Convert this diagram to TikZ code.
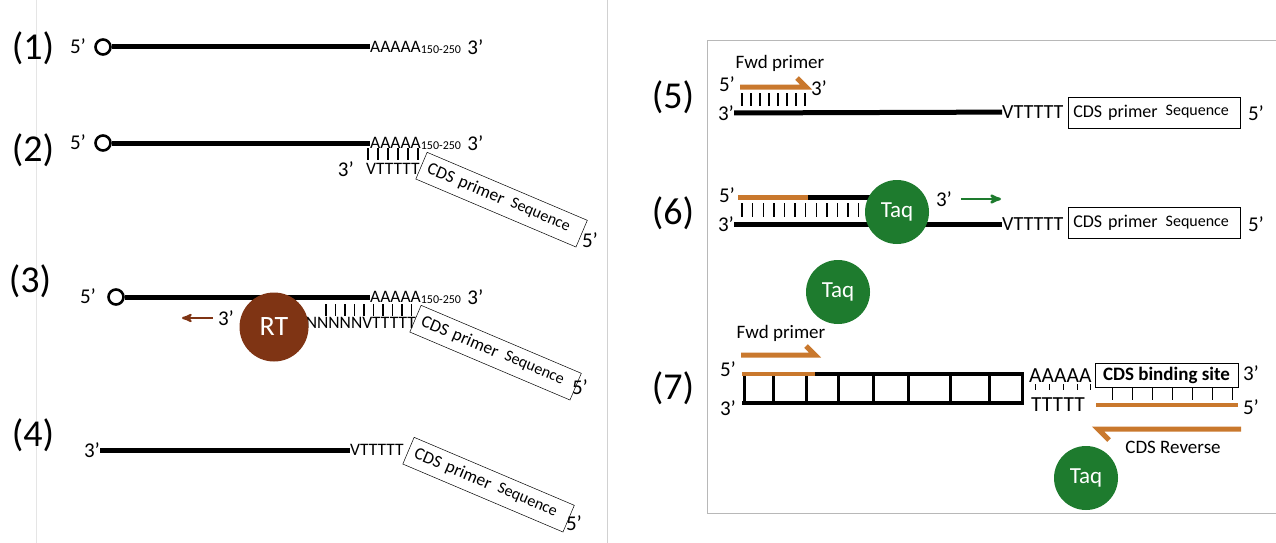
\documentclass[tikz,border=0pt]{standalone}
\usepackage{fontspec}
\setmainfont{Carlito}
\usetikzlibrary{arrows}
\usetikzlibrary{positioning}

\definecolor{primerorange}{HTML}{C9782D}
\definecolor{taqgreen}{HTML}{1E7B2E}
\definecolor{rtbrown}{HTML}{7F3414}
\newcommand{\fsz}[1]{\fontsize{#1}{#1}\selectfont}
\newcommand{\polya}{AAAAA\raisebox{-1pt}{\fsz{12}150-250}}
\newcommand{\cdstext}{CDS primer\hspace{8pt}\raisebox{1.5pt}{\fsz{16}Sequence}}

\begin{document}
\begin{tikzpicture}[x=1pt,y=-1pt,>=stealth',
    num/.style={font=\fsz{38},inner sep=0},
    prime/.style={font=\fsz{21},inner sep=0},
    seq/.style={font=\fsz{17.5},inner sep=0,anchor=west},
    strand/.style={line width=5pt},
    capring/.style={circle,draw,line width=2.6pt,minimum size=15pt,inner sep=0},
    pair/.style={line width=1.4pt},
    primer/.style={primerorange,line width=5pt},
    cdsbox/.style={draw,line width=0.5pt,anchor=north west,rotate=-23,
      minimum width=174pt,minimum height=29pt,text width=160pt,align=left,font=\fsz{17.5}},
    cdsflat/.style={draw,line width=0.6pt,anchor=west,minimum width=172pt,
      minimum height=31pt,text width=162pt,align=left,font=\fsz{18}},
    taq/.style={circle,fill=taqgreen,text=white,minimum size=64pt,inner sep=0,font=\fsz{23}}]

  \useasboundingbox (0,0) rectangle (1276,543);

  % frames
  \draw[black!10,line width=0.8pt] (36,0) -- (36,543);
  \draw[black!18,line width=0.8pt] (607,0) -- (607,543);
  \draw[black!28,line width=0.8pt] (1280,40) -- (707,40) -- (707,513) -- (1280,513);

  % (1) mRNA
  \node[num] (n1) at (33,48) {(1)};
  \node[prime] (p1) at (78,46) {5’};
  \node[capring] (c1) at (103,47) {};
  \node[seq] (a1) at (370,47) {\polya};
  \node[prime,right=6pt of a1] (q1) {3’};
  \draw[strand] (c1) -- (a1);

  % (2) CDS primer binds
  \node[num] (n2) at (33,150) {(2)};
  \node[prime] (p2) at (78,142) {5’};
  \node[capring] (c2) at (103,143) {};
  \node[seq] (a2) at (370,143) {\polya};
  \node[prime,right=6pt of a2] (q2) {3’};
  \draw[strand] (c2) -- (a2);
  \foreach \x in {368,378,...,418}
    \draw[pair] (\x,148) -- (\x,160);
  \node[seq] (v2) at (366,169) {VTTTTT};
  \node[prime,left=12pt of v2] (t2) {3’};
  \node[cdsbox] (b2) at (427,152) {\cdstext};
  \node[prime] (e2) at (590,240) {5’};

  % (3) reverse transcription
  \node[num] (n3) at (30,281) {(3)};
  \node[prime] (p3) at (88,296) {5’};
  \node[capring] (c3) at (116,297) {};
  \node[seq] (a3) at (370,297) {\polya};
  \node[prime,right=6pt of a3] (q3) {3’};
  \draw[strand] (c3) -- (a3);
  \foreach \x in {326,335.5,...,414}
    \draw[pair] (\x,304) -- (\x,316);
  \node[seq,anchor=east] (v3) at (416,323) {NNNNNVTTTTT};
  \node[cdsbox] (b3) at (421,305) {\cdstext};
  \node[prime] (e3) at (580,387) {5’};
  \node[circle,fill=rtbrown,text=white,minimum size=69pt,inner sep=0,font=\fsz{28}] (rt) at (274,327) {RT};
  \node[prime] (t3) at (226,318) {3’};
  \coordinate (r3) at (182,318);
  \draw[->,rtbrown,line width=2.2pt,shorten <=5pt] (t3) -- (r3);

  % (4) first strand cDNA
  \node[num] (n4) at (33,435) {(4)};
  \node[prime] (t4) at (92,450) {3’};
  \node[seq] (v4) at (350,450) {VTTTTT};
  \draw[strand] (t4) -- (v4);
  \node[cdsbox] (b4) at (414,437) {\cdstext};
  \node[prime] (e4) at (574,523) {5’};

  % (5) Fwd primer anneals
  \node[num] (n5) at (673,97) {(5)};
  \node[font=\fsz{19}] (l5) at (780,63) {Fwd primer};
  \node[prime] (f5) at (727,84) {5’};
  \coordinate (s5) at (740,87);
  \coordinate (h5) at (806,87);
  \draw[primer] (s5) -- (h5) -- ++(-9,-9);
  \node[prime] (g5) at (819,88) {3’};
  \foreach \x in {742,751,...,806}
    \draw[pair] (\x,93) -- (\x,106);
  \node[prime] (t5) at (726,113) {3’};
  \node[seq,font=\fsz{20}] (v5) at (1002,112) {VTTTTT};
  \draw[strand] (t5) -- (v5);
  \node[cdsflat] (b5) at (1068,112.5) {\cdstext};
  \node[prime] (e5) at (1256,113) {5’};

  % (6) extension by Taq
  \node[num] (n6) at (673,213) {(6)};
  \node[prime] (f6) at (727,195) {5’};
  \coordinate (s6) at (738,197);
  \coordinate (m6) at (808,197);
  \coordinate (k6) at (882,197);
  \draw[primer] (s6) -- (m6);
  \draw[strand] (m6) -- (k6);
  \foreach \x in {742,752.6,...,872}
    \draw[pair] (\x,203) -- (\x,217);
  \node[prime] (t6) at (726,224) {3’};
  \node[seq,font=\fsz{20}] (v6) at (1002,224) {VTTTTT};
  \draw[strand] (t6) -- (v6);
  \node[taq] (q6) at (897,212) {Taq};
  \node[prime] (g6) at (944,199) {3’};
  \coordinate (r6) at (1001,199);
  \draw[->,taqgreen,line width=2.5pt,shorten <=9pt] (g6) -- (r6);
  \node[cdsflat] (b6) at (1068,223) {\cdstext};
  \node[prime] (e6) at (1256,224) {5’};
  \node[taq] (free) at (838,292) {Taq};

  % (7) double strand cDNA
  \node[num] (n7) at (673,388) {(7)};
  \node[font=\fsz{19}] (l7) at (781,333) {Fwd primer};
  \coordinate (s7) at (741,355);
  \coordinate (h7) at (815,355);
  \draw[primer] (s7) -- (h7) -- ++(-9,-9);
  \node[prime] (f7) at (728,369) {5’};
  \node[prime] (t7) at (728,408) {3’};
  \coordinate (lt) at (742,374);
  \coordinate (rt7) at (1024,374);
  \coordinate (lb) at (742,403);
  \coordinate (rb) at (1024,403);
  \draw[line width=4pt] (lt) -- (rt7);
  \draw[line width=4pt] (lb) -- (rb);
  \foreach \x in {744,773,806,838,873,908,950,989,1022}
    \draw[line width=3pt] (\x,374) -- (\x,403);
  \draw[primerorange,line width=4.5pt] (lt) -- (815,374);
  \node[seq,font=\fsz{21.5}] (a7) at (1029,376) {AAAAA};
  \node[seq,font=\fsz{21.5}] (u7) at (1031,405) {TTTTT};
  \foreach \x in {1035,1049,1063,1077,1090}
    \draw[line width=0.8pt] (\x,384) -- (\x,390);
  \node[draw,line width=1pt,minimum width=143pt,minimum height=24pt,inner sep=0,
        font=\fsz{19}\bfseries] (site) at (1166.5,375) {CDS binding site};
  \node[prime] (g7) at (1251,373) {3’};
  \foreach \x in {1112,1132,...,1235}
    \draw[line width=0.8pt] (\x,387) -- (\x,400);
  \coordinate (cs) at (1096,405);
  \coordinate (ce) at (1238,405);
  \draw[primerorange,line width=4pt] (cs) -- (ce);
  \node[prime] (e7) at (1251,407) {5’};
  \coordinate (rs) at (1241,429);
  \coordinate (re) at (1098,429);
  \draw[primer] (rs) -- (re) -- ++(11,11);
  \node[font=\fsz{19}] (l7r) at (1173,447) {CDS Reverse};
  \node[taq] (q7) at (1086,478) {Taq};
\end{tikzpicture}
\end{document}
